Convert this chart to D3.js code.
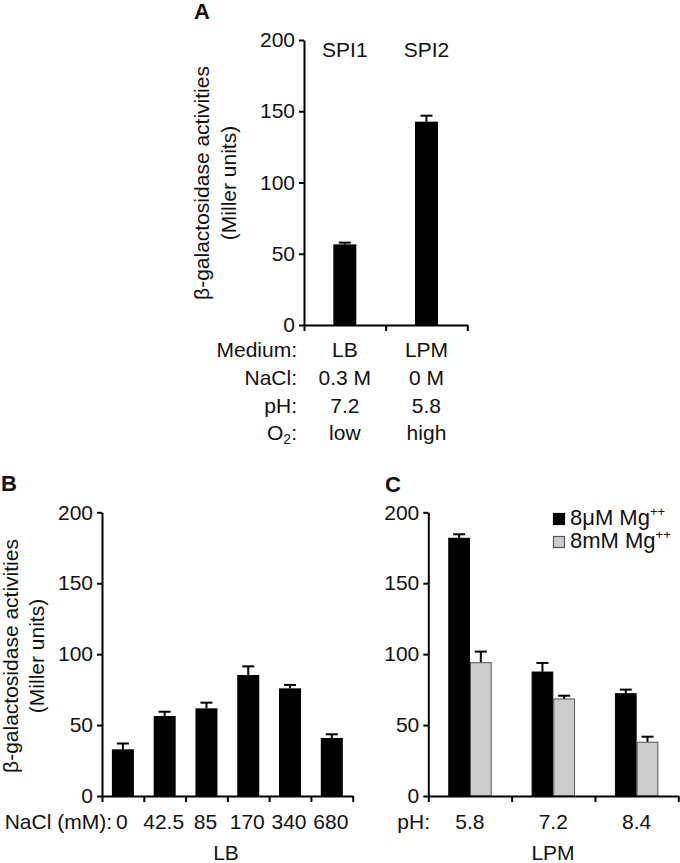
<!DOCTYPE html>
<html>
<head>
<meta charset="utf-8">
<script src="https://cdn.jsdelivr.net/npm/d3@7"></script>
<style>
  html, body { margin: 0; padding: 0; background: #fff; }
  svg text { font-family: "Liberation Sans", Arial, sans-serif; fill: #111; }
</style>
</head>
<body>
<svg id="chart" width="680" height="863"></svg>
<script>
// ---------- DATA ----------
const yTicks = [0, 50, 100, 150, 200];

// Panel A
const aCategories = ["SPI1", "SPI2"];
const aValues = [56.6, 142.7];
const aErrors = [1.2, 4.2];
const aRowLabels = ["Medium:", "NaCl:", "pH:", "O2:"];
const aRowValues = [["LB", "LPM"], ["0.3 M", "0 M"], ["7.2", "5.8"], ["low", "high"]];

// Panel B
const bCategories = ["0", "42.5", "85", "170", "340", "680"];
const bValues = [32.9, 56.4, 61.8, 85.3, 75.9, 40.9];
const bErrors = [4.1, 3.0, 4.0, 6.1, 2.4, 2.6];

// Panel C
const cCategories = ["5.8", "7.2", "8.4"];
const cSeries = ["8μM Mg", "8mM Mg"];
const cLowMg = [181.7, 87.4, 72.1];
const cLowMgErr = [2.8, 6.4, 2.9];
const cHighMg = [94.0, 68.4, 37.9];
const cHighMgErr = [7.8, 2.3, 3.9];

// ---------- DRAW ----------
const svg = d3.select("#chart");
const FS = 21;

function yAxis(g, y, x0) {
  const ax = g.append("g").attr("transform", `translate(${x0},0)`)
    .call(d3.axisLeft(y).tickValues(yTicks).tickSize(5).tickPadding(4).tickSizeOuter(0));
  ax.select(".domain").attr("stroke", "#000").attr("stroke-width", 2);
  ax.selectAll(".tick line").attr("stroke", "#000").attr("stroke-width", 2);
  ax.selectAll(".tick text").attr("font-size", FS).attr("fill", "#111")
    .attr("font-family", "Liberation Sans, Arial, sans-serif");
}
function xAxis(g, n, range, y0) {
  const lin = d3.scaleLinear().domain([0, n]).range(range);
  const ax = g.append("g").attr("transform", `translate(0,${y0})`)
    .call(d3.axisBottom(lin).tickValues(d3.range(n + 1)).tickSize(6).tickFormat("").tickSizeOuter(0));
  ax.select(".domain").attr("stroke", "#000").attr("stroke-width", 2);
  ax.selectAll(".tick line").attr("stroke", "#000").attr("stroke-width", 2);
}
function errBar(g, cx, yTop, yErr, capW) {
  g.append("line").attr("x1", cx).attr("x2", cx).attr("y1", yTop).attr("y2", yErr)
    .attr("stroke", "#000").attr("stroke-width", 2);
  g.append("line").attr("x1", cx - capW / 2).attr("x2", cx + capW / 2).attr("y1", yErr).attr("y2", yErr)
    .attr("stroke", "#000").attr("stroke-width", 2);
}
function yTitle(g, cx1, cx2, cy) {
  g.append("text").attr("transform", `translate(${cx1},${cy}) rotate(-90)`)
    .attr("text-anchor", "middle").attr("font-size", FS).text("β-galactosidase activities");
  g.append("text").attr("transform", `translate(${cx2},${cy}) rotate(-90)`)
    .attr("text-anchor", "middle").attr("font-size", FS).text("(Miller units)");
}
function panelLabel(x, y, t) {
  svg.append("text").attr("x", x).attr("y", y).attr("font-size", 22).attr("font-weight", "bold").text(t);
}

// ===== Panel A =====
{
  const g = svg.append("g");
  const y = d3.scaleLinear().domain([0, 200]).range([325, 40]);
  const x = d3.scaleBand().domain(aCategories).range([304, 467.3]);
  const bw = 23;
  aCategories.forEach((c, i) => {
    const cx = x(c) + x.bandwidth() / 2;
    errBar(g, cx, y(aValues[i]), y(aValues[i] + aErrors[i]), 12);
    g.append("rect").attr("x", cx - bw / 2).attr("width", bw)
      .attr("y", y(aValues[i])).attr("height", y(0) - y(aValues[i])).attr("fill", "#000");
    g.append("text").attr("x", cx).attr("y", 57).attr("text-anchor", "middle").attr("font-size", FS).text(c);
  });
  yAxis(g, y, 304);
  xAxis(g, aCategories.length, [304, 467.3], 325);
  yTitle(g, 209, 236, 183);
  const rowY = [357, 385, 413, 440];
  aRowLabels.forEach((lab, r) => {
    const t = g.append("text").attr("x", 297).attr("y", rowY[r]).attr("text-anchor", "end").attr("font-size", FS);
    if (lab === "O2:") {
      t.append("tspan").text("O");
      t.append("tspan").attr("font-size", 14).attr("dy", 4).text("2");
      t.append("tspan").attr("dy", -4).text(":");
    } else t.text(lab);
    aCategories.forEach((c, i) => {
      g.append("text").attr("x", x(c) + x.bandwidth() / 2).attr("y", rowY[r])
        .attr("text-anchor", "middle").attr("font-size", FS).text(aRowValues[r][i]);
    });
  });
  panelLabel(194, 19, "A");
}

// ===== Panel B =====
{
  const g = svg.append("g");
  const y = d3.scaleLinear().domain([0, 200]).range([796, 512.3]);
  const x = d3.scaleBand().domain(bCategories).range([102, 352.7]);
  const bw = 22;
  bCategories.forEach((c, i) => {
    const cx = x(c) + x.bandwidth() / 2;
    errBar(g, cx, y(bValues[i]), y(bValues[i] + bErrors[i]), 12);
    g.append("rect").attr("x", cx - bw / 2).attr("width", bw)
      .attr("y", y(bValues[i])).attr("height", y(0) - y(bValues[i])).attr("fill", "#000");
    g.append("text").attr("x", cx - 1).attr("y", 829).attr("text-anchor", "middle").attr("font-size", FS).text(c);
  });
  yAxis(g, y, 102);
  xAxis(g, bCategories.length, [102, 352.7], 796);
  g.append("text").attr("x", 112).attr("y", 829).attr("text-anchor", "end").attr("font-size", FS).text("NaCl (mM):");
  g.append("text").attr("x", 226).attr("y", 860).attr("text-anchor", "middle").attr("font-size", FS).text("LB");
  yTitle(g, 18, 44, 656);
  panelLabel(1, 491, "B");
}

// ===== Panel C =====
{
  const g = svg.append("g");
  const y = d3.scaleLinear().domain([0, 200]).range([796, 512.3]);
  const x = d3.scaleBand().domain(cCategories).range([428.3, 678.3]);
  const xs = d3.scaleBand().domain(cSeries).range([0, 43.4]);
  const vals = [cLowMg, cHighMg], errs = [cLowMgErr, cHighMgErr];
  const fills = ["#000", "#cccccc"], strokes = ["#000", "#555"];
  cCategories.forEach((c, i) => {
    const left = x(c) + x.bandwidth() / 2 - 21.7;
    cSeries.forEach((s, k) => {
      const v = vals[k][i];
      const bx = left + xs(s);
      errBar(g, bx + xs.bandwidth() / 2, y(v), y(v + errs[k][i]), 12);
      g.append("rect").attr("x", bx + 0.5).attr("width", xs.bandwidth() - 1)
        .attr("y", y(v)).attr("height", y(0) - y(v))
        .attr("fill", fills[k]).attr("stroke", strokes[k]).attr("stroke-width", 1);
    });
    g.append("text").attr("x", x(c) + x.bandwidth() / 2).attr("y", 829)
      .attr("text-anchor", "middle").attr("font-size", FS).text(c);
  });
  yAxis(g, y, 428.3);
  xAxis(g, cCategories.length, [428.3, 678.3], 796);
  g.append("text").attr("x", 430).attr("y", 829).attr("text-anchor", "end").attr("font-size", FS).text("pH:");
  g.append("text").attr("x", 553).attr("y", 860).attr("text-anchor", "middle").attr("font-size", FS).text("LPM");
  // legend
  const legY = [524.5, 547.5];
  cSeries.forEach((s, k) => {
    g.append("rect").attr("x", 553.5).attr("y", legY[k] - 11).attr("width", 11).attr("height", 11)
      .attr("fill", fills[k]).attr("stroke", strokes[k]).attr("stroke-width", 1.2);
    const t = g.append("text").attr("x", 570).attr("y", legY[k]).attr("font-size", 22);
    t.append("tspan").text(s);
    t.append("tspan").attr("font-size", 13).attr("dy", -9).text("++");
  });
  panelLabel(385, 492, "C");
}
</script>
</body>
</html>
